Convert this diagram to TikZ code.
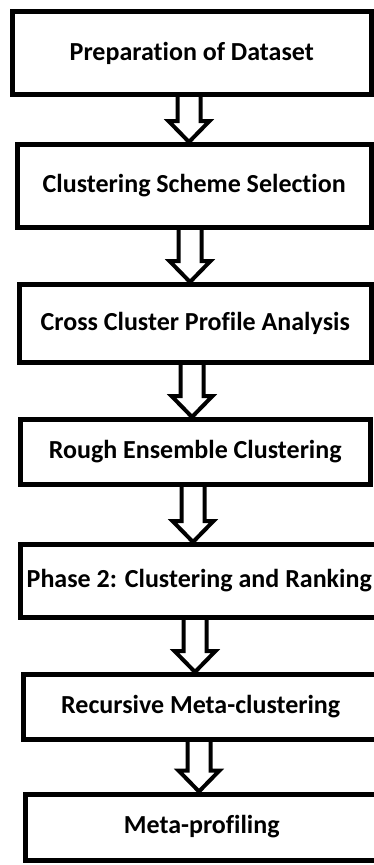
\documentclass[tikz,border=0pt]{standalone}
\usepackage{fontspec}
\setmainfont[Ligatures=NoCommon]{Carlito}
\usetikzlibrary{calc}

\begin{document}
\begin{tikzpicture}[
    x=1pt, y=-1pt,
    stage/.style={rectangle, draw=black, line width=5pt, inner sep=0pt, align=center, font=\bfseries\fontsize{26}{30}\selectfont},
    hollow/.style={draw=black, line width=4pt, fill=white, line join=miter}
]
\useasboundingbox (0,0) rectangle (374,865);

% Stages (top to bottom)
\node[stage, minimum width=358.5pt, minimum height=83pt] (prep) at (191.75, 53) {Preparation of Dataset};
\node[stage, minimum width=353.5pt, minimum height=83pt] (select) at (194.25, 186) {Clustering Scheme Selection};
\node[stage, minimum width=351.5pt, minimum height=78pt] (cross) at (195.25, 323.5) {Cross Cluster Profile Analysis};
\node[stage, minimum width=349.5pt, minimum height=65pt] (rough) at (195.25, 452) {Rough Ensemble Clustering};
\node[stage, minimum width=357.5pt, minimum height=73pt] (phase) at (199.25, 581) {Phase 2: Clustering and Ranking};
\node[stage, minimum width=354.5pt, minimum height=65pt] (recur) at (200.75, 707) {Recursive Meta-clustering};
\node[stage, minimum width=352.5pt, minimum height=66pt] (meta) at (201.75, 827) {Meta-profiling};

% Hollow block arrows between stages
\foreach \a/\b/\c in {prep/select/189, select/cross/190, cross/rough/192, rough/phase/193, phase/recur/195, recur/meta/199}
  \draw[hollow] let \p1=(\a.south), \p2=(\b.north) in
    (\c-11.5,\y1) -- (\c-11.5,\y2+21) -- (\c-20.5,\y2+21) -- (\c,\y2) -- (\c+20.5,\y2+21) -- (\c+11.5,\y2+21) -- (\c+11.5,\y1);

\end{tikzpicture}
\end{document}
